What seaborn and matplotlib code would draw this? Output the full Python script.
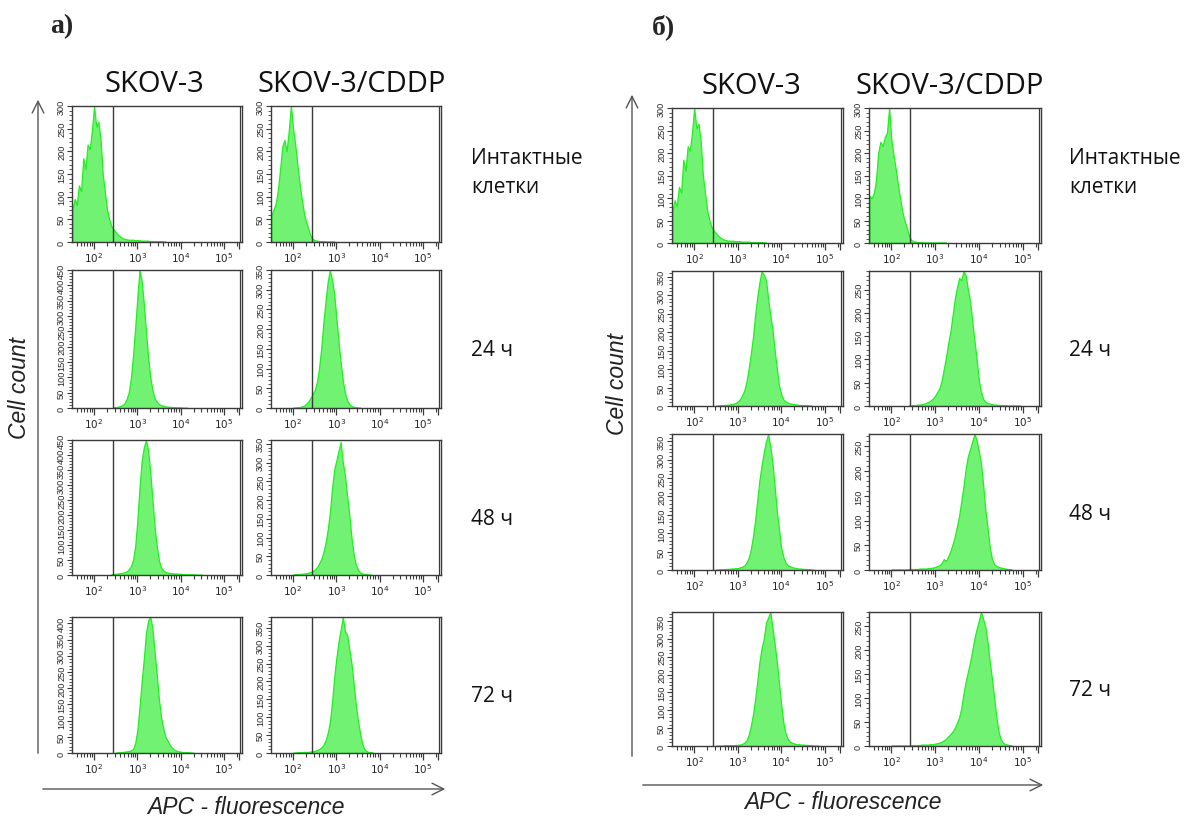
import numpy as np
import pandas as pd
import matplotlib
matplotlib.use("Agg")
import matplotlib.pyplot as plt
from matplotlib.ticker import MultipleLocator, FixedLocator
from matplotlib.patches import FancyArrowPatch
import seaborn as sns

# ---------------- data (counts per 0.05-decade bin of log10 APC fluorescence) -------------
BIN_WIDTH = 0.05

A_SKOV3_INTACT = [72, 95, 82, 125, 112, 185, 160, 215, 205, 245, 300, 255, 265, 225, 150, 110,
                  72, 50, 35, 28, 22, 16, 12, 9, 7, 6, 5, 5, 5, 4, 4, 4, 3, 3, 3, 3, 2, 2, 2, 2, 2, 2, 1, 1]
A_CDDP_INTACT = [60, 72, 85, 115, 160, 210, 225, 200, 245, 300, 250, 215, 170, 130, 95, 65,
                 45, 30, 15, 7, 4, 3, 2, 2, 2, 1, 1, 1, 1, 1]
A_SKOV3_24H = [2, 3, 4, 6, 9, 15, 28, 50, 95, 170, 260, 360, 450, 415, 340, 250, 165, 100, 58, 32,
               20, 13, 9, 7, 5, 4, 4, 3, 3, 2, 2, 2, 1, 1, 1]
A_CDDP_24H = [1, 1, 2, 2, 4, 6, 10, 16, 25, 35, 45, 65, 100, 150, 215, 270, 320, 350, 325, 290,
              230, 170, 115, 70, 38, 20, 10, 5, 3, 2, 1, 1]
A_SKOV3_48H = [2, 3, 4, 5, 6, 7, 9, 12, 18, 28, 50, 95, 180, 290, 380, 425, 450, 415, 340, 250,
               160, 95, 48, 25, 15, 10, 8, 6, 6, 5, 5, 4, 4, 3, 3, 2, 2, 2, 2, 1, 1, 1, 1]
A_CDDP_48H = [1, 2, 2, 3, 3, 4, 5, 6, 8, 10, 14, 20, 30, 42, 60, 85, 120, 165, 230, 280, 305, 330,
              355, 300, 265, 210, 160, 100, 55, 28, 14, 7, 4, 3, 2, 1, 1]
A_SKOV3_72H = [1, 2, 2, 3, 4, 5, 6, 8, 12, 30, 70, 140, 220, 290, 370, 410, 420, 385, 310, 240,
               165, 110, 75, 50, 38, 25, 16, 10, 7, 5, 4, 3, 3, 2, 2, 1, 1]
A_CDDP_72H = [1, 1, 2, 2, 2, 3, 3, 3, 4, 5, 6, 8, 11, 15, 22, 35, 55, 85, 140, 210, 265, 310, 345,
              380, 340, 330, 290, 250, 195, 135, 90, 55, 25, 10, 5, 3, 2, 1]

B_SKOV3_INTACT = [72, 95, 82, 125, 112, 185, 160, 215, 205, 245, 300, 255, 265, 225, 150, 110,
                  72, 50, 35, 28, 22, 16, 12, 9, 7, 6, 5, 5, 5, 4, 4, 4, 3, 3, 3, 3, 2, 2, 2, 2, 2, 2, 1, 1]
B_CDDP_INTACT = [105, 100, 110, 140, 200, 225, 215, 235, 245, 300, 230, 195, 165, 130, 100, 70,
                 50, 35, 18, 7, 4, 3, 2, 2, 2, 1, 1, 1, 1, 1, 1, 1, 1, 1, 1, 1]
B_SKOV3_24H = [1, 1, 2, 2, 3, 3, 4, 5, 6, 8, 12, 18, 28, 42, 65, 100, 140, 185, 245, 295, 335, 365,
               355, 340, 290, 245, 205, 150, 100, 55, 32, 18, 12, 9, 7, 6, 5, 4, 3, 3, 2, 2, 2, 1, 1]
B_CDDP_24H = [1, 1, 2, 2, 3, 3, 4, 5, 7, 9, 12, 16, 22, 30, 38, 55, 80, 105, 135, 160, 195, 230,
              255, 275, 270, 290, 280, 250, 225, 180, 140, 100, 55, 30, 15, 9, 6, 5, 4, 3, 3, 2,
              2, 2, 2, 1, 1, 1, 1, 1, 1, 1]
B_SKOV3_48H = [1, 1, 2, 2, 2, 3, 3, 4, 4, 5, 5, 7, 9, 12, 20, 32, 55, 90, 135, 190, 245, 285, 320,
               350, 370, 335, 290, 225, 160, 110, 60, 35, 20, 13, 10, 8, 6, 5, 4, 4, 3, 3, 2, 2, 1, 1]
B_CDDP_48H = [1, 1, 1, 1, 1, 1, 1, 1, 2, 2, 2, 2, 2, 3, 3, 3, 3, 4, 4, 5, 6, 8, 10, 14, 22, 18, 28,
              38, 52, 68, 88, 110, 140, 170, 205, 230, 245, 260, 275, 262, 240, 215, 170, 120, 85,
              45, 22, 12, 8, 6, 5, 4, 3, 2, 2, 1]
B_SKOV3_72H = [1, 1, 1, 1, 2, 2, 2, 2, 2, 3, 3, 4, 6, 9, 16, 30, 55, 88, 130, 180, 235, 275, 300,
               345, 360, 375, 330, 285, 235, 175, 115, 65, 35, 20, 12, 9, 7, 5, 5, 4, 4, 3, 3, 2,
               2, 1, 1, 1]
B_CDDP_72H = [1, 1, 1, 1, 1, 1, 1, 1, 1, 1, 2, 2, 2, 2, 3, 3, 3, 3, 4, 4, 5, 6, 7, 9, 12, 15, 20,
              25, 30, 38, 48, 60, 80, 110, 135, 155, 175, 200, 225, 245, 262, 280, 265, 248, 215,
              175, 140, 100, 60, 30, 14, 7, 4, 3, 2, 1]

# first bin centre (log10) for each series, in the same order as the panel lists below
A_SERIES = [A_SKOV3_INTACT, A_CDDP_INTACT, A_SKOV3_24H, A_CDDP_24H,
            A_SKOV3_48H, A_CDDP_48H, A_SKOV3_72H, A_CDDP_72H]
A_START = [1.50, 1.50, 2.45, 2.00, 2.40, 2.00, 2.50, 2.00]
A_YMAX = [300, 300, 450, 350, 450, 360, 420, 380]

B_SERIES = [B_SKOV3_INTACT, B_CDDP_INTACT, B_SKOV3_24H, B_CDDP_24H,
            B_SKOV3_48H, B_CDDP_48H, B_SKOV3_72H, B_CDDP_72H]
B_START = [1.50, 1.50, 2.50, 2.40, 2.50, 2.00, 2.50, 2.00]
B_YMAX = [300, 300, 365, 290, 370, 275, 375, 280]

GATE_LOG = 2.43
COLUMNS = ["SKOV-3", "SKOV-3/CDDP"]
ROW_LABELS = ["Интактные\nклетки", "24 ч", "48 ч", "72 ч"]
X_MAJOR = [2, 3, 4, 5, 5.35]
X_MAJOR_LABELS = ["$10^2$", "$10^3$", "$10^4$", "$10^5$", ""]

# ---------------- style ----------------
sns.set_style("ticks")
plt.rcParams["font.family"] = ["Open Sans", "DejaVu Sans"]

W, H = 1192, 820
fig = plt.figure(figsize=(W / 100, H / 100), dpi=100)

FILL = "#72f272"
EDGE = "#22ee22"
SPINE = "#3a3a3a"
XLIM = (1.49, 5.42)


def add_ax(L, T, R, B):
    return fig.add_axes([L / W, 1 - B / H, (R - L) / W, (B - T) / H])


minor_x = [np.log10(k * 10 ** n) for n in range(1, 6) for k in range(2, 10)]
minor_x = [m for m in minor_x if XLIM[0] < m < 5.33]


def draw_panel(ax, counts, start, ymax):
    centers = start + BIN_WIDTH * np.arange(len(counts))
    df = pd.DataFrame({"log_fl": centers, "count": counts})
    edges = [float(c - BIN_WIDTH / 2) for c in centers] + [float(centers[-1] + BIN_WIDTH / 2)]
    sns.histplot(data=df, x="log_fl", weights="count", bins=edges, element="poly",
                 fill=True, facecolor=FILL, edgecolor=EDGE, linewidth=0.9, alpha=1, ax=ax)
    ax.set_xlim(*XLIM)
    ax.set_ylim(0, ymax)
    ax.axvline(GATE_LOG, color=SPINE, lw=1.0)
    ax.axvline(5.365, color=SPINE, lw=0.9)
    ax.set_xlabel("")
    ax.set_ylabel("")
    ax.xaxis.set_major_locator(FixedLocator(X_MAJOR))
    ax.set_xticklabels(X_MAJOR_LABELS, fontsize=7.5, family="Liberation Sans")
    ax.xaxis.set_minor_locator(FixedLocator(minor_x))
    ax.yaxis.set_major_locator(MultipleLocator(50))
    ax.yaxis.set_minor_locator(MultipleLocator(10))
    for lab in ax.get_yticklabels():
        lab.set_fontsize(6.6)
        lab.set_family("Liberation Sans")
        lab.set_rotation(90)
        lab.set_va("center")
    ax.tick_params(axis="x", which="major", length=5, width=0.9, pad=1.2, color=SPINE)
    ax.tick_params(axis="x", which="minor", length=3.2, width=0.8, color=SPINE)
    ax.tick_params(axis="y", which="major", length=3.5, width=0.8, pad=0.8, color=SPINE)
    ax.tick_params(axis="y", which="minor", length=2, width=0.6, color=SPINE)
    for s in ax.spines.values():
        s.set_color(SPINE)
        s.set_linewidth(1.0)


A_COLS = [(72, 242), (271, 441)]
A_ROWS = [(107, 243), (271, 409), (441, 576), (618, 754)]
B_COLS = [(672, 843), (869, 1041)]
B_ROWS = [(109, 244), (272, 407), (435, 571), (613, 747)]

for cols, rows, series, starts, ymaxs in [(A_COLS, A_ROWS, A_SERIES, A_START, A_YMAX),
                                          (B_COLS, B_ROWS, B_SERIES, B_START, B_YMAX)]:
    k = 0
    for (T, Bt) in rows:
        for (L, R) in cols:
            ax = add_ax(L, T, R, Bt)
            draw_panel(ax, series[k], starts[k], ymaxs[k])
            k += 1


def fy(y):
    return 1 - y / H


def fx(x):
    return x / W


# panel letters
fig.text(fx(50), fy(27), "а)", fontsize=20, fontweight="bold", family="Liberation Serif",
         ha="left", va="center")
fig.text(fx(652), fy(27), "б)", fontsize=20, fontweight="bold", family="Liberation Serif",
         ha="left", va="center")

# column titles
for (cx, cy, t) in [(154, 84, COLUMNS[0]), (352, 84, COLUMNS[1]),
                    (751, 86, COLUMNS[0]), (950, 86, COLUMNS[1])]:
    fig.text(fx(cx), fy(cy), t, fontsize=21, ha="center", va="center", color="#111111")

# row labels
for x0, rows in [(471, A_ROWS), (1069, B_ROWS)]:
    for lab, (T, Bt) in zip(ROW_LABELS, rows):
        yc = 173 if "\n" in lab else (T + Bt) / 2 + 11
        fig.text(fx(x0), fy(yc), lab, fontsize=15, ha="left", va="center",
                 linespacing=1.45, color="#111111")

# axis titles
fig.text(fx(20), fy(388), "Cell count", rotation=90, fontsize=16.5, style="italic",
         family="Liberation Sans", ha="center", va="center", color="#222222")
fig.text(fx(617), fy(384), "Cell count", rotation=90, fontsize=16.5, style="italic",
         family="Liberation Sans", ha="center", va="center", color="#222222")
fig.text(fx(246), fy(808), "APC - fluorescence", fontsize=16.5, style="italic",
         family="Liberation Sans", ha="center", va="center", color="#222222")
fig.text(fx(843), fy(803), "APC - fluorescence", fontsize=16.5, style="italic",
         family="Liberation Sans", ha="center", va="center", color="#222222")

# arrows
for (x1, y1, x2, y2) in [(38, 757, 38, 98), (40, 790, 448, 790),
                         (632, 760, 632, 93), (640, 786, 1046, 786)]:
    fig.add_artist(FancyArrowPatch(
        (fx(x1), fy(y1)), (fx(x2), fy(y2)), transform=fig.transFigure,
        arrowstyle="->,head_length=0.7,head_width=0.35", mutation_scale=12,
        color="#555555", lw=1.0))

fig.savefig("out.png", dpi=100)
